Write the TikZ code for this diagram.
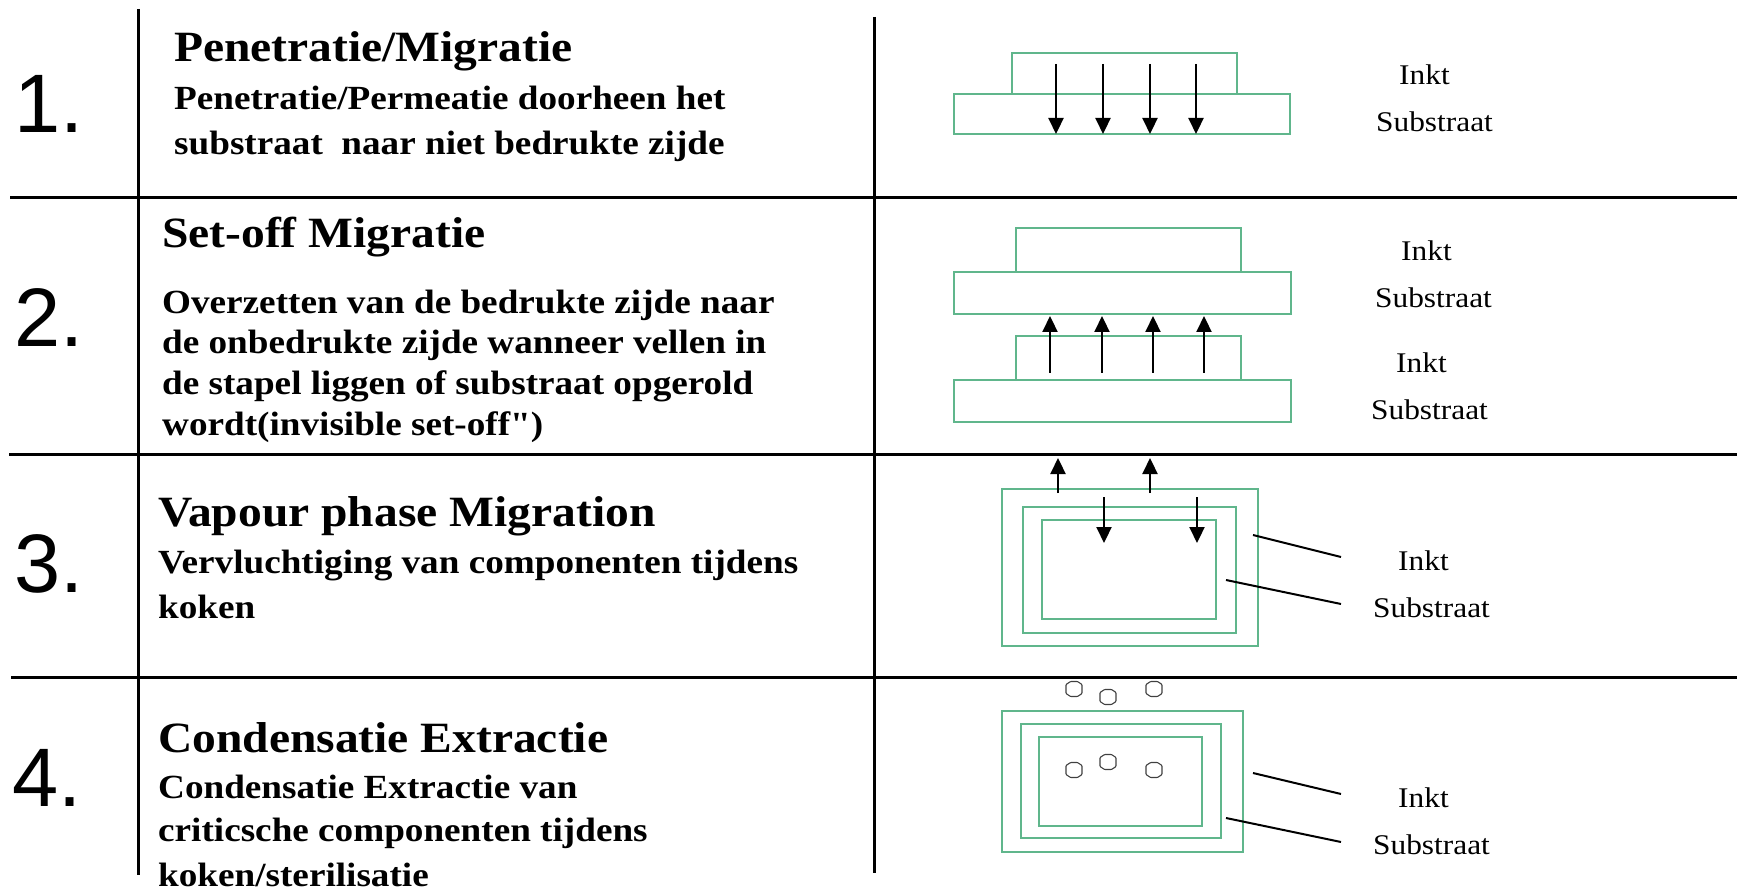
\documentclass[tikz,border=0pt]{standalone}
\usepackage{fontspec}
\setmainfont{Liberation Serif}[FakeStretch=1.1]
\newfontfamily\qfont{Liberation Serif}[FakeStretch=1.1]
\newfontfamily\numfont{Liberation Sans}
\usetikzlibrary{arrows.meta}
\definecolor{boxgreen}{RGB}{96,182,140}
\tikzset{
  hrule/.style={line width=3pt},
  layerbox/.style={draw=boxgreen, line width=1.3pt},
  flowarrow/.style={line width=2.2pt, -{Triangle[width=15pt,length=16pt]}},
  leaderline/.style={line width=2pt},
  numtxt/.style={anchor=base west, inner sep=0pt, font=\numfont\fontsize{83}{90}\selectfont},
  titletxt/.style={anchor=base west, inner sep=0pt, font=\bfseries\fontsize{43.2}{50}\selectfont},
  bodytxt/.style={anchor=base west, inner sep=0pt, font=\bfseries\fontsize{33.8}{40}\selectfont},
  labeltxt/.style={anchor=base west, inner sep=0pt, font=\fontsize{28.5}{34}\selectfont},
  dropshape/.style={draw=black!75, line width=1.1pt, rounded corners=0.8pt},
}
\begin{document}
\begin{tikzpicture}[x=1pt,y=-1pt]
\useasboundingbox (0,0) rectangle (1737,890);
% grid lines
\draw[hrule] (138,9) -- (138,875);
\draw[hrule] (874,17) -- (874,873);
\draw[hrule] (10,198) -- (1737,198);
\draw[hrule] (9,454) -- (1737,454);
\draw[hrule] (11,677) -- (1737,677);

% numbers
\node[numtxt] (n1) at (14,133) {1.};
\node[numtxt] (n2) at (14,347) {2.};
\node[numtxt] (n3) at (14,592) {3.};
\node[numtxt] (n4) at (12,806) {4.};

% row 1 text
\node[titletxt] (t1) at (174,62) {Penetratie/Migratie};
\node[bodytxt] (b1a) at (174,110) {Penetratie/Permeatie doorheen het};
\node[bodytxt] (b1b) at (174,155) {substraat~ naar niet bedrukte zijde};
% row 2 text
\node[titletxt] (t2) at (162,248) {Set-off Migratie};
\node[bodytxt] (b2a) at (162,314) {Overzetten van de bedrukte zijde naar};
\node[bodytxt] (b2b) at (162,354) {de onbedrukte zijde wanneer vellen in};
\node[bodytxt] (b2c) at (162,394) {de stapel liggen of substraat opgerold};
\node[bodytxt] (b2d) at (162,435) {wordt(invisible set-off{\qfont "})};
% row 3 text
\node[titletxt] (t3) at (158,526) {Vapour phase Migration};
\node[bodytxt] (b3a) at (158,573) {Vervluchtiging van componenten tijdens};
\node[bodytxt] (b3b) at (158,618) {koken};
% row 4 text
\node[titletxt] (t4) at (158,752) {Condensatie Extractie};
\node[bodytxt] (b4a) at (158,798) {Condensatie Extractie van};
\node[bodytxt] (b4b) at (158,841) {criticsche componenten tijdens};
\node[bodytxt] (b4c) at (158,886) {koken/sterilisatie};

% labels
\node[labeltxt] (i1) at (1399,85) {Inkt};
\node[labeltxt] (s1) at (1376,132) {Substraat};
\node[labeltxt] (i2a) at (1401,261) {Inkt};
\node[labeltxt] (s2a) at (1375,308) {Substraat};
\node[labeltxt] (i2b) at (1396,373) {Inkt};
\node[labeltxt] (s2b) at (1371,419) {Substraat};
\node[labeltxt] (i3) at (1398,570) {Inkt};
\node[labeltxt] (s3) at (1373,617) {Substraat};
\node[labeltxt] (i4) at (1398,807) {Inkt};
\node[labeltxt] (s4) at (1373,854) {Substraat};

% row 1 diagram
\draw[layerbox] (1012,53) rectangle (1237,94);
\draw[layerbox] (954,94) rectangle (1290,134);
\foreach \x in {1056,1103,1150,1196}
  \draw[flowarrow] (\x,64) -- (\x,134);

% row 2 diagram
\draw[layerbox] (1016,228) rectangle (1241,272);
\draw[layerbox] (954,272) rectangle (1291,314);
\draw[layerbox] (1016,336) rectangle (1241,380);
\draw[layerbox] (954,380) rectangle (1291,422);
\foreach \x in {1050,1102,1153,1204}
  \draw[flowarrow] (\x,373) -- (\x,316);

% row 3 diagram
\draw[layerbox] (1002,489) rectangle (1258,646);
\draw[layerbox] (1023,507) rectangle (1236,633);
\draw[layerbox] (1042,520) rectangle (1216,619);
\foreach \x in {1058,1150}
  \draw[flowarrow] (\x,493) -- (\x,458);
\foreach \x in {1104,1197}
  \draw[flowarrow] (\x,497) -- (\x,543);
\draw[leaderline] (1253,535) -- (1341,557);
\draw[leaderline] (1226,580) -- (1341,604);

% row 4 diagram
\draw[layerbox] (1002,711) rectangle (1243,852);
\draw[layerbox] (1021,724) rectangle (1221,838);
\draw[layerbox] (1039,737) rectangle (1202,826);
\foreach \p in {(1074,689),(1108,697),(1154,689),(1074,770),(1108,762),(1154,770)}
  \draw[dropshape, shift={\p}] (-8,-4.5) -- (-3.5,-7.5) -- (3.5,-7.5) -- (8,-4.5) -- (8,4.5) -- (3.5,7.5) -- (-3.5,7.5) -- (-8,4.5) -- cycle;
\draw[leaderline] (1253,773) -- (1341,794);
\draw[leaderline] (1226,818) -- (1341,842);
\end{tikzpicture}
\end{document}
